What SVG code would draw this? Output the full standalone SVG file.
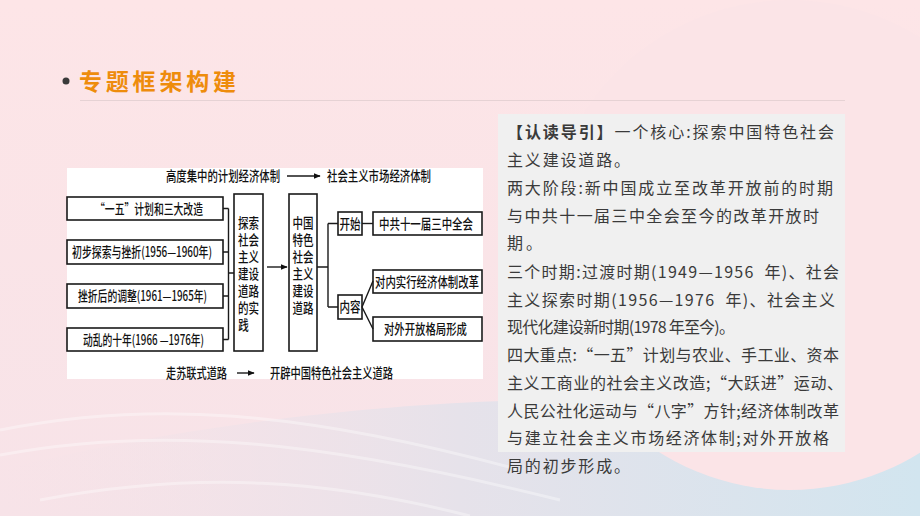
<svg xmlns="http://www.w3.org/2000/svg" width="920" height="516" viewBox="0 0 920 516">
<defs>
<linearGradient id="bg" x1="0" y1="0" x2="0" y2="1">
<stop offset="0" stop-color="#fde5e7"/>
<stop offset="1" stop-color="#f7e3e8"/>
</linearGradient>
<linearGradient id="blue" x1="0" y1="0" x2="1" y2="0">
<stop offset="0" stop-color="#f3e2e8" stop-opacity="0"/>
<stop offset="0.5" stop-color="#e6e2ea"/>
<stop offset="1" stop-color="#d2e5ef"/>
</linearGradient>
<marker id="ah" viewBox="0 0 10 10" refX="9" refY="5" markerWidth="7" markerHeight="7" markerUnits="userSpaceOnUse" orient="auto">
<path d="M0,1 L10,5 L0,9 z" fill="#111"/>
</marker>
<style>
.box{fill:#fff;stroke:#1a1a1a;stroke-width:1.6}
.dt{font-family:"Noto Sans CJK SC","Noto Sans",sans-serif;font-size:14px;fill:#111;font-weight:500}
.vt{font-family:"Noto Sans CJK SC","Noto Sans",sans-serif;font-size:14px;fill:#111;font-weight:500;text-anchor:middle}
.ln{fill:none;stroke:#1a1a1a;stroke-width:1.4}
.rt{font-family:"Noto Sans CJK SC","Noto Sans",sans-serif;font-size:16px;fill:#3a3a3a}
</style>
</defs>
<rect x="0" y="0" width="920" height="516" fill="url(#bg)"/>
<path d="M0,516 L0,470 C200,420 420,400 560,400 C700,400 820,410 920,380 L920,516 Z" fill="url(#blue)"/>
<circle cx="790" cy="245" r="245" fill="#fbe4e7"/>
<g fill="none" stroke="#ffffff" stroke-opacity="0.35" stroke-width="3">
<path d="M0,430 C150,400 300,410 520,470"/>
<path d="M0,455 C160,425 320,440 560,500"/>
<path d="M40,500 C200,470 330,480 470,516"/>
</g>
<g id="title">
<circle cx="66" cy="81" r="3.5" fill="#3a3a3a"/>
<text x="79" y="90" font-family="'Noto Sans CJK SC',sans-serif" font-size="23" font-weight="700" fill="#ee8c0c" textLength="157">专题框架构建</text>
<line x1="80" y1="100.5" x2="845" y2="100.5" stroke="#e6d2d4" stroke-width="1"/>
</g>
<rect x="67" y="168" width="416" height="211" fill="#ffffff"/>
<g id="flow-top">
<text class="dt" x="166" y="181" textLength="114" lengthAdjust="spacingAndGlyphs">高度集中的计划经济体制</text>
<text class="dt" x="327" y="181" textLength="104" lengthAdjust="spacingAndGlyphs">社会主义市场经济体制</text>
</g>
<g id="flow-bottom">
<text class="dt" x="166" y="378" textLength="61" lengthAdjust="spacingAndGlyphs">走苏联式道路</text>
<text class="dt" x="270" y="378" textLength="123" lengthAdjust="spacingAndGlyphs">开辟中国特色社会主义道路</text>
</g>
<g id="n1"><rect class="box" x="67" y="197" width="156" height="23"/><text class="dt" x="95" y="213.5" textLength="108" lengthAdjust="spacingAndGlyphs">“一五”计划和三大改造</text></g>
<g id="n2"><rect class="box" x="67" y="240" width="156" height="24"/><text class="dt" x="72" y="257" textLength="140" lengthAdjust="spacingAndGlyphs">初步探索与挫折(1956—1960年)</text></g>
<g id="n3"><rect class="box" x="67" y="284" width="156" height="24"/><text class="dt" x="78" y="301" textLength="129" lengthAdjust="spacingAndGlyphs">挫折后的调整(1961—1965年)</text></g>
<g id="n4"><rect class="box" x="67" y="328" width="156" height="23"/><text class="dt" x="83" y="344.5" textLength="121" lengthAdjust="spacingAndGlyphs">动乱的十年(1966 —1976年)</text></g>
<g id="n5"><rect class="box" x="234" y="194" width="29" height="157"/>
<text class="vt" x="248.5" y="228" textLength="21" lengthAdjust="spacingAndGlyphs">探索</text>
<text class="vt" x="248.5" y="245" textLength="21" lengthAdjust="spacingAndGlyphs">社会</text>
<text class="vt" x="248.5" y="262" textLength="21" lengthAdjust="spacingAndGlyphs">主义</text>
<text class="vt" x="248.5" y="279" textLength="21" lengthAdjust="spacingAndGlyphs">建设</text>
<text class="vt" x="248.5" y="296" textLength="21" lengthAdjust="spacingAndGlyphs">道路</text>
<text class="vt" x="248.5" y="313" textLength="21" lengthAdjust="spacingAndGlyphs">的实</text>
<text class="vt" x="243.5" y="330" textLength="10.5" lengthAdjust="spacingAndGlyphs">践</text>
</g>
<g id="n6"><rect class="box" x="289" y="194" width="28" height="157"/>
<text class="vt" x="303" y="228" textLength="21" lengthAdjust="spacingAndGlyphs">中国</text>
<text class="vt" x="303" y="245" textLength="21" lengthAdjust="spacingAndGlyphs">特色</text>
<text class="vt" x="303" y="262" textLength="21" lengthAdjust="spacingAndGlyphs">社会</text>
<text class="vt" x="303" y="279" textLength="21" lengthAdjust="spacingAndGlyphs">主义</text>
<text class="vt" x="303" y="296" textLength="21" lengthAdjust="spacingAndGlyphs">建设</text>
<text class="vt" x="303" y="313" textLength="21" lengthAdjust="spacingAndGlyphs">道路</text>
</g>
<g id="n7"><rect class="box" x="338" y="212" width="24" height="23"/><text class="vt" x="350" y="228.5" textLength="21" lengthAdjust="spacingAndGlyphs">开始</text></g>
<g id="n8"><rect class="box" x="338" y="295" width="24" height="24"/><text class="vt" x="350" y="312" textLength="21" lengthAdjust="spacingAndGlyphs">内容</text></g>
<g id="n9"><rect class="box" x="373" y="212" width="109" height="23"/><text class="dt" x="379" y="228.5" textLength="94" lengthAdjust="spacingAndGlyphs">中共十一届三中全会</text></g>
<g id="n10"><rect class="box" x="373" y="270" width="109" height="23"/><text class="dt" x="375" y="286.5" textLength="104" lengthAdjust="spacingAndGlyphs">对内实行经济体制改革</text></g>
<g id="n11"><rect class="box" x="373" y="317" width="109" height="24"/><text class="dt" x="384" y="334" textLength="83" lengthAdjust="spacingAndGlyphs">对外开放格局形成</text></g>
<g id="connectors">
<line class="ln" x1="287" y1="176" x2="320" y2="176" marker-end="url(#ah)"/>
<line class="ln" x1="237" y1="373" x2="254" y2="373" marker-end="url(#ah)"/>
<path class="ln" d="M223,208.5 H228.5 M223,252 H228.5 M223,296 H228.5 M223,339.5 H228.5 M228.5,208.5 V339.5 M228.5,273 H234"/>
<line class="ln" x1="267" y1="267" x2="287" y2="267" marker-end="url(#ah)"/>
<path class="ln" d="M317,267 H328 M328,223.5 V307 M328,223.5 H338 M328,307 H338"/>
<line class="ln" x1="362" y1="223.5" x2="373" y2="223.5"/>
<path class="ln" d="M362,307 L373,281 M362,307 L373,329"/>
</g>
<g id="guide">
<rect x="498" y="114" width="347" height="338" fill="#f0f0f0"/>
<text class="rt" x="507" y="138" textLength="327"><tspan font-weight="700">【认读导引】</tspan>一个核心:探索中国特色社会</text>
<text class="rt" x="507" y="166" textLength="123">主义建设道路。</text>
<text class="rt" x="507" y="194" textLength="326">两大阶段:新中国成立至改革开放前的时期</text>
<text class="rt" x="507" y="222" textLength="312">与中共十一届三中全会至今的改革开放时</text>
<text class="rt" x="507" y="249" textLength="35">期。</text>
<text class="rt" x="507" y="278" textLength="332" xml:space="preserve">三个时期:过渡时期(1949—1956  年)、社会</text>
<text class="rt" x="507" y="306" textLength="328" xml:space="preserve">主义探索时期(1956—1976  年)、社会主义</text>
<text class="rt" x="507" y="333" textLength="228">现代化建设新时期(1978 年至今)。</text>
<text class="rt" x="507" y="361" textLength="332">四大重点:“一五”计划与农业、手工业、资本</text>
<text class="rt" x="507" y="389" textLength="336">主义工商业的社会主义改造;“大跃进”运动、</text>
<text class="rt" x="507" y="417" textLength="332">人民公社化运动与“八字”方针;经济体制改革</text>
<text class="rt" x="507" y="444" textLength="322">与建立社会主义市场经济体制;对外开放格</text>
<text class="rt" x="507" y="472" textLength="123">局的初步形成。</text>
</g>
</svg>
